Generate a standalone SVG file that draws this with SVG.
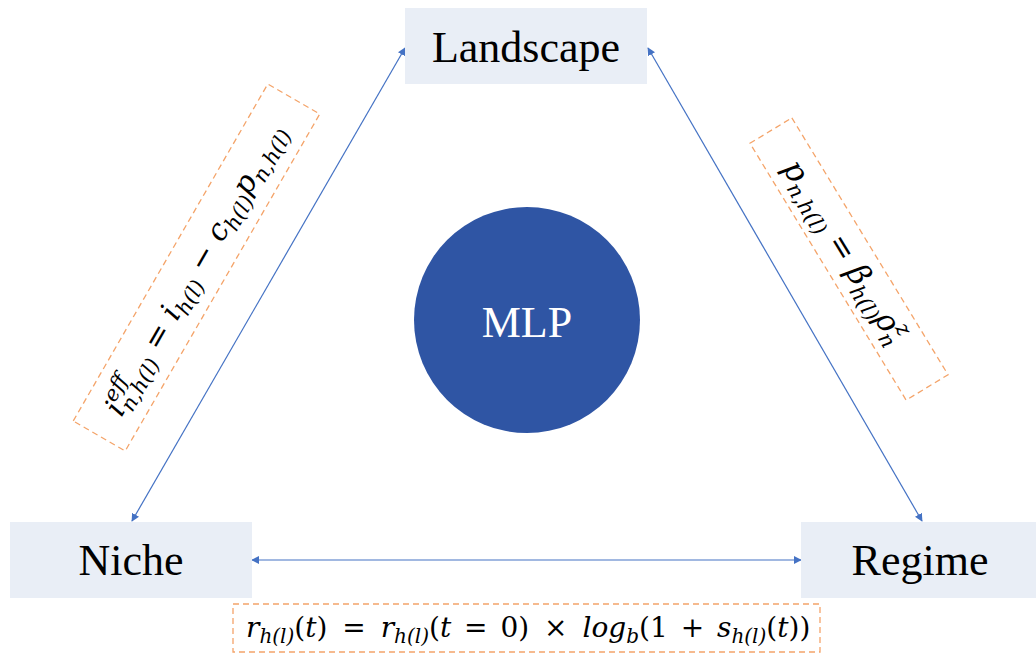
<svg xmlns="http://www.w3.org/2000/svg" width="1036" height="653" viewBox="0 0 1036 653">
<style>
.box{fill:#E9EEF6}
.lbl{font-family:"Liberation Serif",serif;font-size:44px;fill:#000;text-anchor:middle}
.conn{stroke:#4472C4;stroke-width:1.2;fill:none}
.dash{fill:none;stroke:#F4A46A;stroke-width:1.3;stroke-dasharray:6 4}
.eq{font-family:"DejaVu Serif",serif;font-style:italic;fill:#000}
.up{font-style:normal}
</style>
<defs>
<marker id="ah" viewBox="0 0 10 10" refX="9" refY="5" markerWidth="8" markerHeight="8" markerUnits="userSpaceOnUse" orient="auto-start-reverse">
<path d="M0,0 L10,5 L0,10 z" fill="#4472C4"/>
</marker>
</defs>
<rect width="1036" height="653" fill="#fff"/>
<g id="connectors">
<line class="conn" x1="132" y1="521" x2="405" y2="48" marker-start="url(#ah)" marker-end="url(#ah)"/>
<line class="conn" x1="648" y1="48" x2="922" y2="521" marker-start="url(#ah)" marker-end="url(#ah)"/>
<line class="conn" x1="252" y1="560" x2="801" y2="560" marker-start="url(#ah)" marker-end="url(#ah)"/>
</g>
<g id="landscape">
<rect class="box" x="405" y="8" width="242" height="76"/>
<text class="lbl" x="526" y="62">Landscape</text>
</g>
<g id="niche">
<rect class="box" x="10" y="522" width="242" height="76"/>
<text class="lbl" x="131" y="575">Niche</text>
</g>
<g id="regime">
<rect class="box" x="801" y="522" width="235" height="76"/>
<text class="lbl" x="920" y="575">Regime</text>
</g>
<g id="mlp">
<circle cx="527" cy="320" r="113" fill="#2F55A4"/>
<text class="lbl" x="527" y="337" style="fill:#fff">MLP</text>
</g>
<g id="eq-left" transform="translate(196.5,267.5) rotate(-60)">
<rect class="dash" x="-194.5" y="-30" width="389" height="60"/>
<text class="eq" x="-168" y="10" font-size="30">i<tspan font-size="21" dy="-13">eff</tspan><tspan font-size="21" dx="-27" dy="20">n,h(l)</tspan><tspan class="up" dy="-7"> = </tspan>i<tspan font-size="21" dy="7">h(l)</tspan><tspan class="up" dy="-7"> − </tspan>c<tspan font-size="21" dy="7">h(l)</tspan><tspan dy="-7">p</tspan><tspan font-size="21" dy="7">n,h(l)</tspan></text>
</g>
<g id="eq-right" transform="translate(849,259) rotate(58.7)">
<rect class="dash" x="-150.3" y="-24.5" width="300.6" height="49"/>
<text class="eq" x="-113" y="10" font-size="31">p<tspan font-size="21" dy="7">n,h(l)</tspan><tspan class="up" dy="-7"> = </tspan>β<tspan font-size="21" dy="7">h(l)</tspan><tspan dy="-7">ρ</tspan><tspan font-size="21" dy="7">n</tspan><tspan font-size="21" dx="-13" dy="-20">z</tspan></text>
</g>
<g id="eq-bottom">
<rect class="dash" x="233" y="604" width="587" height="48"/>
<text class="eq" x="246" y="637" font-size="28">r<tspan font-size="20" dy="6">h(l)</tspan><tspan class="up" dy="-6">(</tspan>t<tspan class="up">)</tspan><tspan class="up" dx="6"> = </tspan><tspan dx="6">r</tspan><tspan font-size="20" dy="6">h(l)</tspan><tspan class="up" dy="-6">(</tspan>t<tspan class="up" dx="4"> = </tspan><tspan class="up" dx="4">0)</tspan><tspan class="up" dx="6"> × </tspan><tspan dx="6">log</tspan><tspan font-size="20" dy="6">b</tspan><tspan class="up" dy="-6">(1</tspan><tspan class="up" dx="4"> + </tspan><tspan dx="4">s</tspan><tspan font-size="20" dy="6">h(l)</tspan><tspan class="up" dy="-6">(</tspan>t<tspan class="up">))</tspan></text>
</g>
</svg>
